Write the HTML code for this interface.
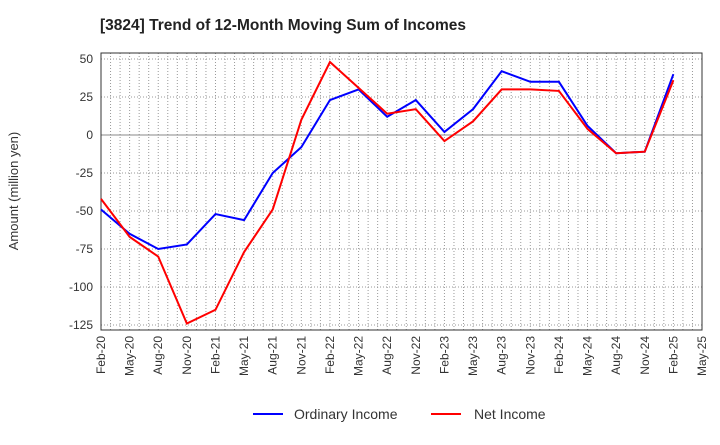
<!DOCTYPE html>
<html><head><meta charset="utf-8"><style>
body{margin:0;background:#fff;font-family:"Liberation Sans",sans-serif}
</style></head><body>
<svg id="c" width="720" height="440" xmlns="http://www.w3.org/2000/svg">
<text x="100" y="30" font-size="15.5" font-weight="bold" fill="#222">[3824]  Trend of 12-Month Moving Sum of Incomes</text>
<text transform="translate(18,191) rotate(-90)" text-anchor="middle" font-size="13" fill="#333">Amount (million yen)</text>
<g id="grid"></g><g id="axes"></g><g id="series"></g>
<g>
<line x1="253" y1="414" x2="283" y2="414" stroke="#0000ff" stroke-width="2"/>
<text x="294" y="419" font-size="14" fill="#333">Ordinary Income</text>
<line x1="431" y1="414" x2="461" y2="414" stroke="#ff0000" stroke-width="2"/>
<text x="474" y="419" font-size="14" fill="#333">Net Income</text>
</g>
</svg>
<script>
const xLabels=["Feb-20","May-20","Aug-20","Nov-20","Feb-21","May-21","Aug-21","Nov-21","Feb-22","May-22","Aug-22","Nov-22","Feb-23","May-23","Aug-23","Nov-23","Feb-24","May-24","Aug-24","Nov-24","Feb-25","May-25"];
const yTicks=[50,25,0,-25,-50,-75,-100,-125];
const ordinaryIncome=[-49,-65,-75,-72,-52,-56,-25,-8,23,30,12,23,2,17,42,35,35,6,-12,-11,40];
const netIncome=[-42,-67,-80,-124,-115,-77,-49,10,48,31,14,17,-4,9,30,30,29,4,-12,-11,36];
const L=101,R=702,T=53,B=330;
const NS="http://www.w3.org/2000/svg";
const step=(R-L)/(xLabels.length-1);
const x=i=>L+i*step;
const y=v=>135-v*38/25;
function mk(t,a,p){const e=document.createElementNS(NS,t);for(const k in a)e.setAttribute(k,a[k]);p.appendChild(e);return e;}
const g=document.getElementById('grid'),ax=document.getElementById('axes'),s=document.getElementById('series');
for(let m=1;m<(xLabels.length-1)*3;m++){const xx=L+m*step/3;
const l=mk('line',{x1:xx,x2:xx,y1:T,y2:B,stroke:'#999','stroke-dasharray':'1,2','stroke-width':1},g);

}
yTicks.forEach(v=>{const l=mk('line',{x1:L,x2:R,y1:y(v),y2:y(v),stroke:v===0?'#888':'#999','stroke-dasharray':v===0?'':'1,2','stroke-width':1},g);


const t=mk('text',{x:L-8,y:y(v)+4,'text-anchor':'end','font-size':12,fill:'#333'},ax);t.textContent=v;

});
const fr=mk('rect',{x:L,y:T,width:R-L,height:B-T,fill:'none',stroke:'#333','stroke-width':1},ax);


xLabels.forEach((lb,i)=>{const t=mk('text',{transform:`translate(${x(i)+4},${B+6}) rotate(-90)`,'text-anchor':'end','font-size':12,fill:'#333'},ax);t.textContent=lb;

});
function line(d,c,n){const p=mk('polyline',{points:d.map((v,i)=>x(i)+','+y(v)).join(' '),fill:'none',stroke:c,'stroke-width':2},s);

}
line(ordinaryIncome,'#0000ff','ordinary-income-line');
line(netIncome,'#ff0000','net-income-line');
</script>
</body></html>
